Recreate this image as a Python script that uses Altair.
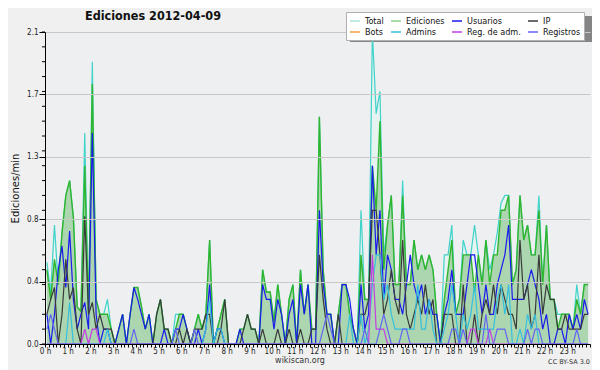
import altair as alt
import pandas as pd

# ---- data: 10-minute bins, values in edits/min ----
EDICIONES = [
    0.5, 0.3, 0.57, 0.4, 0.75, 1.0,
    1.1, 0.85, 0.25, 0.22, 1.2, 0.2,
    1.75, 0.3, 0.2, 0.2, 0.2, 0.1,
    0, 0.1, 0.2, 0, 0.2, 0.38,
    0.38, 0.25, 0.1, 0.2, 0, 0.2,
    0.3, 0.1, 0.1, 0, 0.1, 0.2,
    0.2, 0.1, 0, 0.1, 0.2, 0.1,
    0.2, 0.7, 0, 0.1, 0.2, 0.3,
    0, 0, 0, 0.1, 0.1, 0.2,
    0.1, 0.1, 0, 0.5, 0.35, 0.35,
    0.15, 0.4, 0.2, 0, 0.3, 0.4,
    0, 0.5, 0.2, 0.4, 0.1, 0.1,
    1.53, 0.5, 0.2, 0.2, 0, 0.2,
    0.4, 0.4, 0.2, 0.1, 0, 0.6,
    0.3, 0.3, 1.2, 0.9, 1.5, 0.5,
    0.8, 1.0, 0.4, 0.4, 1.0, 0.4,
    0.4, 0.7, 0.5, 0.6, 0.5, 0.6,
    0.5, 0.2, 0, 0.3, 0.5, 0.7,
    0.2, 0.3, 0.6, 0.6, 0.6, 0.35,
    0.6, 0.4, 0.7, 0.4, 0.6, 0.6,
    0.9, 0.9, 1.0, 0.4, 0.5, 1.0,
    0.7, 0.8, 0.6, 0.6, 0.9, 0.4,
    0.8, 0.3, 0.3, 0.1, 0.2, 0.2,
    0.2, 0.1, 0.3, 0.2, 0.4, 0.4,
]
TOTAL = [
    0.55, 0.35, 0.8, 0.4, 0.75, 1.0,
    1.1, 0.85, 0.25, 0.22, 1.42, 0.2,
    1.9, 0.3, 0.2, 0.2, 0.3, 0.1,
    0, 0.1, 0.2, 0, 0.2, 0.38,
    0.38, 0.25, 0.1, 0.2, 0, 0.2,
    0.3, 0.1, 0.1, 0, 0.2, 0.2,
    0.2, 0.1, 0, 0.1, 0.2, 0.1,
    0.2, 0.7, 0, 0.1, 0.2, 0.3,
    0, 0, 0, 0.1, 0.1, 0.2,
    0.1, 0.1, 0, 0.5, 0.35, 0.35,
    0.15, 0.4, 0.2, 0, 0.3, 0.4,
    0, 0.5, 0.2, 0.4, 0.1, 0.1,
    1.53, 0.5, 0.2, 0.2, 0, 0.2,
    0.4, 0.4, 0.2, 0.1, 0, 0.9,
    0.3, 0.3, 2.1, 1.55, 1.7, 0.6,
    0.8, 1.0, 0.4, 0.4, 1.1, 0.4,
    0.4, 0.7, 0.5, 0.6, 0.5, 0.6,
    0.5, 0.2, 0, 0.6, 0.6, 0.8,
    0.2, 0.3, 0.7, 0.6, 0.6, 0.8,
    0.6, 0.4, 0.7, 0.5, 0.6, 0.75,
    0.95, 1.0, 1.0, 0.4, 0.5, 1.0,
    0.7, 0.8, 0.6, 0.6, 1.0, 0.4,
    0.8, 0.3, 0.3, 0.2, 0.2, 0.2,
    0.2, 0.1, 0.4, 0.2, 0.4, 0.4,
]
USUARIOS = [
    0.2, 0, 0.2, 0.5, 0.66, 0.38,
    0.76, 0.3, 0.1, 0.2, 0.28, 0.1,
    1.42, 0.2, 0, 0.1, 0.1, 0,
    0, 0.1, 0.2, 0, 0.2, 0.38,
    0.3, 0.2, 0.1, 0.2, 0, 0,
    0, 0.1, 0, 0, 0.1, 0.1,
    0.2, 0.1, 0, 0, 0.1, 0,
    0.1, 0.4, 0, 0.1, 0.1, 0,
    0, 0, 0, 0.1, 0, 0,
    0, 0, 0, 0.4, 0.3, 0.3,
    0.1, 0.3, 0.2, 0, 0.2, 0.3,
    0, 0.4, 0.2, 0.4, 0, 0,
    0.9, 0.4, 0.2, 0.2, 0, 0,
    0.4, 0.4, 0.3, 0.1, 0, 0.4,
    0.1, 0.2, 1.2, 0.6, 0.9, 0.3,
    0.6, 0.5, 0.3, 0.3, 0.2, 0.4,
    0.6, 0.4, 0.3, 0.4, 0.2, 0.3,
    0.2, 0.2, 0, 0.2, 0.3, 0.5,
    0.2, 0.2, 0.2, 0.4, 0.6, 0.6,
    0.4, 0.2, 0.4, 0.2, 0.2, 0.4,
    0.5, 0.6, 0.8, 0.3, 0.3, 0.3,
    0.3, 0.4, 0.5, 0.4, 0.3, 0.1,
    0.2, 0, 0, 0.1, 0.1, 0,
    0.2, 0.1, 0.2, 0.1, 0.3, 0.2,
]
IP = [
    0.2, 0.3, 0.38, 0, 0.2, 0.57,
    0.3, 0.38, 0.1, 0, 0.86, 0.2,
    0.28, 0.1, 0.2, 0.1, 0.1, 0.1,
    0, 0, 0, 0, 0, 0,
    0, 0, 0, 0, 0, 0.2,
    0.3, 0.1, 0.1, 0, 0, 0.1,
    0, 0.1, 0, 0.1, 0.1, 0.1,
    0.2, 0.2, 0, 0, 0.1, 0.3,
    0, 0, 0, 0, 0.1, 0.2,
    0.1, 0.1, 0, 0.1, 0, 0,
    0, 0.1, 0, 0, 0.1, 0,
    0, 0.1, 0, 0, 0.1, 0.1,
    0.6, 0.3, 0.1, 0, 0, 0.2,
    0, 0, 0, 0, 0, 0.2,
    0.2, 0.3, 0.9, 0.9, 0.6, 0.2,
    0.3, 0.5, 0.3, 0.2, 0.7, 0.2,
    0.1, 0.2, 0.3, 0.2, 0.4, 0.2,
    0.3, 0, 0, 0.2, 0.2, 0.2,
    0, 0, 0.4, 0, 0, 0.2,
    0, 0.2, 0.3, 0.2, 0.4, 0.2,
    0.4, 0.3, 0.2, 0.2, 0.1, 0.7,
    0.3, 0.4, 0.1, 0.2, 0.6, 0.2,
    0.4, 0.3, 0.3, 0.1, 0.1, 0.2,
    0.1, 0.1, 0.1, 0.1, 0.2, 0.2,
]
ADMINS = [
    0, 0, 0, 0, 0, 0,
    0.28, 0, 0, 0, 0, 0,
    0, 0, 0, 0, 0.1, 0,
    0, 0, 0, 0, 0, 0,
    0, 0, 0, 0, 0, 0,
    0, 0, 0, 0, 0, 0,
    0, 0, 0, 0, 0, 0,
    0.1, 0.3, 0, 0.1, 0.1, 0,
    0, 0, 0, 0, 0, 0,
    0, 0, 0, 0, 0, 0,
    0, 0, 0, 0, 0, 0,
    0, 0, 0, 0, 0, 0,
    0, 0, 0, 0, 0, 0,
    0, 0, 0.2, 0, 0, 0.2,
    0, 0.1, 0.4, 0.6, 0.6, 0.3,
    0.4, 0.2, 0.1, 0.1, 0.1, 0.1,
    0.1, 0.1, 0.4, 0.1, 0.1, 0.3,
    0.1, 0, 0, 0.1, 0.2, 0.4,
    0.2, 0, 0.2, 0.1, 0.2, 0.4,
    0.1, 0.1, 0.1, 0.1, 0.1, 0.3,
    0.4, 0.2, 0.4, 0, 0, 0.1,
    0, 0.2, 0.1, 0.2, 0, 0,
    0, 0, 0, 0, 0, 0,
    0, 0, 0, 0, 0, 0,
]
REG_ADM = [
    0, 0, 0, 0, 0, 0,
    0, 0, 0, 0, 0.1, 0,
    0.1, 0.1, 0, 0, 0, 0,
    0, 0, 0, 0, 0, 0,
    0, 0, 0, 0, 0, 0,
    0, 0, 0, 0, 0, 0,
    0, 0, 0, 0, 0, 0,
    0, 0, 0, 0, 0, 0,
    0, 0, 0, 0, 0, 0,
    0, 0, 0, 0, 0, 0,
    0, 0, 0, 0, 0, 0,
    0, 0, 0, 0, 0, 0,
    0, 0, 0, 0, 0, 0,
    0, 0, 0, 0, 0, 0,
    0, 0, 0.6, 0.1, 0.1, 0.1,
    0, 0, 0, 0, 0, 0,
    0, 0, 0, 0, 0, 0,
    0, 0, 0, 0, 0, 0,
    0, 0, 0, 0, 0.1, 0.1,
    0, 0, 0, 0.1, 0, 0,
    0, 0, 0, 0, 0, 0,
    0, 0, 0, 0, 0, 0,
    0, 0, 0, 0, 0, 0,
    0, 0, 0, 0, 0, 0,
]
REGISTROS = [
    0.1, 0.2, 0.1, 0, 0, 0,
    0, 0, 0, 0, 0, 0,
    0, 0, 0, 0, 0, 0,
    0, 0, 0, 0, 0, 0.1,
    0, 0, 0, 0, 0, 0,
    0, 0, 0, 0, 0.1, 0,
    0, 0, 0, 0.1, 0, 0,
    0, 0, 0, 0, 0, 0,
    0, 0, 0, 0, 0, 0,
    0, 0, 0, 0, 0, 0,
    0, 0, 0, 0, 0, 0,
    0, 0, 0, 0, 0, 0,
    0, 0.1, 0.2, 0.1, 0, 0,
    0, 0, 0, 0, 0, 0,
    0.1, 0, 0, 0, 0.1, 0.2,
    0.1, 0, 0, 0, 0.1, 0.1,
    0, 0, 0, 0, 0, 0,
    0, 0, 0, 0, 0, 0.1,
    0.1, 0, 0.1, 0, 0, 0,
    0, 0, 0.2, 0, 0, 0.1,
    0.1, 0.1, 0, 0, 0, 0,
    0, 0.1, 0, 0.1, 0.1, 0,
    0, 0, 0, 0, 0, 0,
    0, 0, 0.1, 0, 0, 0,
]

# legend order (column-major in a 2-row grid gives the reference's row order)
SERIES = ["Total", "Bots", "Ediciones", "Admins", "Usuarios", "Reg. de adm.", "IP", "Registros"]
COLORS = ["#ace6de", "#f0a040", "#8ed08e", "#35c0de", "#1a1aee", "#c53ee2", "#3a3a3a", "#6464f2"]
MINUTES = [k * 10 + 5 for k in range(144)]
X_TICKS = [k * 10 for k in range(145)]
Y_MAJOR = [0, 0.42, 0.84, 1.26, 1.68, 2.1]
Y_MINOR = [round(k * 0.1, 1) for k in range(22)]

rows = []
for name, vals in [("Total", TOTAL), ("Ediciones", EDICIONES), ("Usuarios", USUARIOS),
                   ("IP", IP), ("Admins", ADMINS), ("Reg. de adm.", REG_ADM),
                   ("Registros", REGISTROS)]:
    for m, v in zip(MINUTES, vals):
        rows.append({"minute": m, "value": v, "serie": name})
df = pd.DataFrame(rows)

FONT = "DejaVu Sans Condensed, DejaVu Sans"

xscale = alt.Scale(domain=[0, 1440], nice=False, zero=False)
yscale = alt.Scale(domain=[0, 2.1], nice=False)
xaxis = alt.Axis(values=X_TICKS, labelExpr="datum.value % 60 == 0 && datum.value < 1440 ? (datum.value / 60) + ' h' : ''",
                 labelOverlap=False, labelFlush=False, grid=False, tickSize=3, labelPadding=0,
                 labelFontSize=8, labelFont=FONT, labelColor="#222", domainColor="#000",
                 tickColor="#000", title=None, zindex=1)
yaxis = alt.Axis(values=Y_MAJOR, format=".1f", grid=True, gridColor="#c8c8c8", tickSize=6,
                 labelPadding=1, labelFontSize=8, labelFont=FONT, labelColor="#222",
                 domainColor="#000", tickColor="#000", title="Ediciones/min",
                 titleFont="DejaVu Sans", titleFontSize=10, titleFontWeight="normal",
                 titleColor="#111", titleX=-30, titleY=156, titleAngle=270,
                 titleAlign="center", titleBaseline="middle", zindex=1)

X = alt.X("minute:Q", scale=xscale, axis=xaxis)
Y = alt.Y("value:Q", scale=yscale, axis=yaxis)

base = alt.Chart(df)

total_area = base.transform_filter(alt.datum.serie == "Total").mark_area(
    color="#e2f5f1", line={"color": "#3fd3c9", "strokeWidth": 1.2}
).encode(x=X, y=Y)

ed_area = base.transform_filter(alt.datum.serie == "Ediciones").mark_area(
    color="#93c993", line={"color": "#2fb52f", "strokeWidth": 1.4}
).encode(x=X, y=Y)

lines = base.transform_filter(
    (alt.datum.serie != "Total") & (alt.datum.serie != "Ediciones")
).mark_line(strokeWidth=1.2).encode(
    x=X, y=Y,
    color=alt.Color("serie:N", scale=alt.Scale(domain=SERIES, range=COLORS),
                    legend=alt.Legend(orient="none", legendX=301, legendY=-20, columns=4,
                                      direction="vertical", zindex=3,
                                      symbolType="stroke", symbolSize=100, symbolStrokeWidth=1.5,
                                      labelFontSize=9, labelFont=FONT, labelColor="#111",
                                      fillColor="white", strokeColor="#b0b0b0", padding=3,
                                      rowPadding=0, columnPadding=4, labelOffset=4, title=None)),
    order=alt.Order("minute:Q"),
)

yminor = alt.Chart(pd.DataFrame({"value": Y_MINOR})).mark_rule(color="#000", strokeWidth=1).encode(
    y=Y, x=alt.value(-3), x2=alt.value(0)
)

shadow = alt.Chart(pd.DataFrame({"a": [0]})).mark_rect(color="#858585").encode(
    x=alt.value(305), x2=alt.value(550), y=alt.value(-16), y2=alt.value(10)
)

title = alt.Chart(pd.DataFrame({"t": ["Ediciones  2012-04-09"]})).mark_text(
    align="left", baseline="middle", font=FONT, fontSize=12.5, fontWeight="bold", color="#111"
).encode(text="t:N", x=alt.value(40), y=alt.value(-16))

foot1 = alt.Chart(pd.DataFrame({"t": ["wikiscan.org"]})).mark_text(
    align="center", baseline="middle", font="DejaVu Sans", fontSize=8, color="#333"
).encode(text="t:N", x=alt.value(255), y=alt.value(329))

foot2 = alt.Chart(pd.DataFrame({"t": ["CC BY-SA 3.0"]})).mark_text(
    align="right", baseline="middle", font="DejaVu Sans", fontSize=6.5, color="#333"
).encode(text="t:N", x=alt.value(545), y=alt.value(330))

chart = alt.layer(shadow, total_area, ed_area, lines, yminor, title, foot1, foot2).properties(
    width=545, height=312,
    autosize=alt.AutoSizeParams(type="none"),
    padding={"left": 37, "top": 24, "right": 2, "bottom": 26},
    background="#f0f0f0",
).configure_view(fill="#eeeff1", stroke=None)

chart.save("out.html", embed_options={"renderer": "svg", "actions": False})
